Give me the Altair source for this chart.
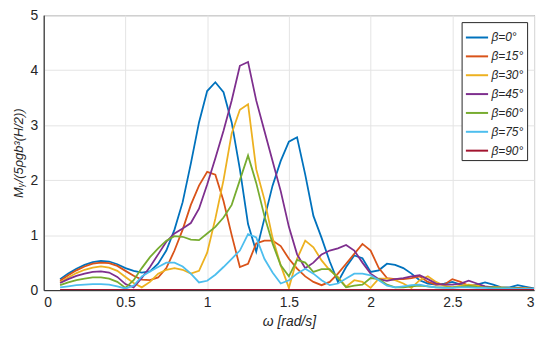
import altair as alt
import pandas as pd

omega = [0.10, 0.15, 0.20, 0.25, 0.30, 0.35, 0.40, 0.45, 0.50, 0.55,
         0.60, 0.65, 0.70, 0.75, 0.80, 0.85, 0.90, 0.95, 1.00, 1.05,
         1.10, 1.15, 1.20, 1.25, 1.30, 1.35, 1.40, 1.45, 1.50, 1.55,
         1.60, 1.65, 1.70, 1.75, 1.80, 1.85, 1.90, 1.95, 2.00, 2.05,
         2.10, 2.15, 2.20, 2.25, 2.30, 2.35, 2.40, 2.45, 2.50, 2.55,
         2.60, 2.65, 2.70, 2.75, 2.80, 2.85, 2.90, 2.95, 3.00]

beta_labels = ["β=0°", "β=15°", "β=30°", "β=45°", "β=60°", "β=75°", "β=90°"]
colors = ["#0072BD", "#D95319", "#EDB120", "#7E2F8E", "#77AC30", "#4DBEEE", "#A2142F"]

b0 = [0.20, 0.30, 0.39, 0.46, 0.51, 0.53, 0.52, 0.47, 0.40, 0.35,
      0.32, 0.34, 0.48, 0.72, 1.10, 1.60, 2.30, 3.05, 3.62, 3.78,
      3.60, 3.05, 2.20, 1.20, 0.70, 1.30, 1.90, 2.35, 2.70, 2.78,
      2.10, 1.35, 0.95, 0.52, 0.15, 0.42, 0.63, 0.58, 0.33, 0.36,
      0.48, 0.46, 0.40, 0.30, 0.18, 0.12, 0.10, 0.12, 0.15, 0.10,
      0.07, 0.10, 0.14, 0.10, 0.05, 0.05, 0.09, 0.06, 0.03]
b15 = [0.17, 0.27, 0.36, 0.43, 0.48, 0.50, 0.49, 0.44, 0.35, 0.26,
       0.19, 0.18, 0.23, 0.40, 0.72, 1.10, 1.55, 1.90, 2.15, 2.10,
       1.62, 1.00, 0.42, 0.48, 0.85, 0.90, 0.90, 0.80, 0.57, 0.39,
       0.25, 0.15, 0.09, 0.15, 0.30, 0.48, 0.66, 0.84, 0.72, 0.40,
       0.22, 0.20, 0.20, 0.22, 0.25, 0.15, 0.10, 0.10, 0.20, 0.15,
       0.08, 0.08, 0.06, 0.05, 0.04, 0.04, 0.04, 0.03, 0.02]
b30 = [0.14, 0.23, 0.31, 0.37, 0.41, 0.43, 0.41, 0.35, 0.24, 0.13,
       0.05, 0.15, 0.30, 0.37, 0.40, 0.37, 0.30, 0.35, 0.68, 1.30,
       2.00, 2.85, 3.28, 3.38, 2.20, 1.65, 0.95, 0.45, 0.04, 0.57,
       0.90, 0.78, 0.54, 0.36, 0.24, 0.06, 0.18, 0.15, 0.04, 0.21,
       0.21, 0.18, 0.12, 0.04, 0.18, 0.25, 0.15, 0.08, 0.05, 0.08,
       0.10, 0.08, 0.06, 0.06, 0.05, 0.04, 0.03, 0.03, 0.02]
b45 = [0.13, 0.20, 0.26, 0.30, 0.33, 0.34, 0.32, 0.24, 0.11, 0.05,
       0.22, 0.42, 0.65, 0.88, 1.03, 1.12, 1.22, 1.48, 1.92, 2.40,
       2.90, 3.45, 4.08, 4.15, 3.45, 2.90, 2.35, 1.80, 1.15, 0.65,
       0.40, 0.50, 0.65, 0.72, 0.76, 0.82, 0.72, 0.50, 0.30, 0.20,
       0.17, 0.20, 0.22, 0.25, 0.27, 0.20, 0.12, 0.10, 0.10, 0.12,
       0.17, 0.12, 0.07, 0.05, 0.04, 0.03, 0.03, 0.02, 0.02]
b60 = [0.09, 0.14, 0.18, 0.21, 0.23, 0.23, 0.21, 0.15, 0.04, 0.18,
       0.40, 0.60, 0.76, 0.90, 0.98, 0.97, 0.92, 0.91, 1.03, 1.15,
       1.32, 1.55, 2.00, 2.45, 1.95, 1.35, 0.85, 0.45, 0.25, 0.55,
       0.50, 0.33, 0.38, 0.38, 0.22, 0.05, 0.08, 0.10, 0.22, 0.20,
       0.10, 0.05, 0.05, 0.07, 0.08, 0.07, 0.05, 0.05, 0.05, 0.06,
       0.08, 0.06, 0.05, 0.05, 0.04, 0.03, 0.03, 0.02, 0.02]
b75 = [0.05, 0.07, 0.09, 0.10, 0.11, 0.11, 0.10, 0.07, 0.03, 0.08,
       0.25, 0.34, 0.42, 0.50, 0.50, 0.43, 0.30, 0.14, 0.17, 0.28,
       0.42, 0.57, 0.72, 1.02, 0.96, 0.57, 0.32, 0.12, 0.18, 0.30,
       0.39, 0.30, 0.18, 0.09, 0.12, 0.21, 0.30, 0.30, 0.27, 0.18,
       0.08, 0.05, 0.07, 0.09, 0.10, 0.07, 0.05, 0.04, 0.04, 0.05,
       0.05, 0.04, 0.04, 0.03, 0.03, 0.03, 0.02, 0.02, 0.02]
b90 = [0.003, 0.003, 0.003, 0.003, 0.003, 0.003, 0.003, 0.003, 0.003, 0.003,
       0.003, 0.003, 0.003, 0.003, 0.003, 0.003, 0.003, 0.003, 0.003, 0.003,
       0.003, 0.003, 0.003, 0.003, 0.003, 0.003, 0.003, 0.003, 0.003, 0.003,
       0.003, 0.003, 0.003, 0.003, 0.003, 0.003, 0.003, 0.003, 0.003, 0.003,
       0.003, 0.003, 0.003, 0.003, 0.003, 0.003, 0.003, 0.003, 0.003, 0.003,
       0.003, 0.003, 0.003, 0.003, 0.003, 0.003, 0.003, 0.003, 0.003]

x_ticks = [0, 0.5, 1, 1.5, 2, 2.5, 3]
y_ticks = [0, 1, 2, 3, 4, 5]

series = [b0, b15, b30, b45, b60, b75, b90]
rows = []
for i, (lab, vals) in enumerate(zip(beta_labels, series)):
    for w, v in zip(omega, vals):
        rows.append({"omega": w, "M": v, "beta": lab, "k": i})
df = pd.DataFrame(rows)

FONT = "Liberation Sans"

chart = alt.Chart(df).mark_line(strokeWidth=1.8, clip=True).encode(
    x=alt.X("omega:Q",
            scale=alt.Scale(domain=[0, 3], nice=False, zero=False),
            axis=alt.Axis(values=x_ticks, format="~g", title="ω [rad/s]",
                          titleFontStyle="italic", titleFontWeight="normal",
                          titleFontSize=14, titlePadding=5)),
    y=alt.Y("M:Q",
            scale=alt.Scale(domain=[0, 5], nice=False),
            axis=alt.Axis(values=y_ticks, format="~g", title="Mᵧ/(5ρgb³(H/2))",
                          titleFontStyle="italic", titleFontWeight="normal",
                          titleFontSize=13, titlePadding=5)),
    color=alt.Color("beta:N",
                    scale=alt.Scale(domain=beta_labels, range=colors),
                    sort=beta_labels,
                    legend=alt.Legend(title=None, orient="top-right", offset=7,
                                      symbolType="stroke", symbolSize=500,
                                      symbolStrokeWidth=2, labelFontSize=12,
                                      labelFontStyle="italic", labelFont=FONT,
                                      labelColor="#262626",
                                      fillColor="white", strokeColor="#262626",
                                      padding=3, rowPadding=0, labelOffset=2)),
    order=alt.Order("k:Q"),
).properties(
    width=494, height=277,
    autosize=alt.AutoSizeParams(type="none"),
    padding={"left": 36, "top": 6, "right": 8, "bottom": 45},
).configure_axis(
    labelFont=FONT, titleFont=FONT, labelFontSize=14, labelColor="#262626",
    titleColor="#262626", ticks=False, labelPadding=6,
    domainColor="#262626", grid=True, gridColor="#e4e4e4", gridWidth=1,
).configure_view(
    stroke="#555555", strokeWidth=1,
)

chart.save("out.html", embed_options={"renderer": "svg", "actions": False})
